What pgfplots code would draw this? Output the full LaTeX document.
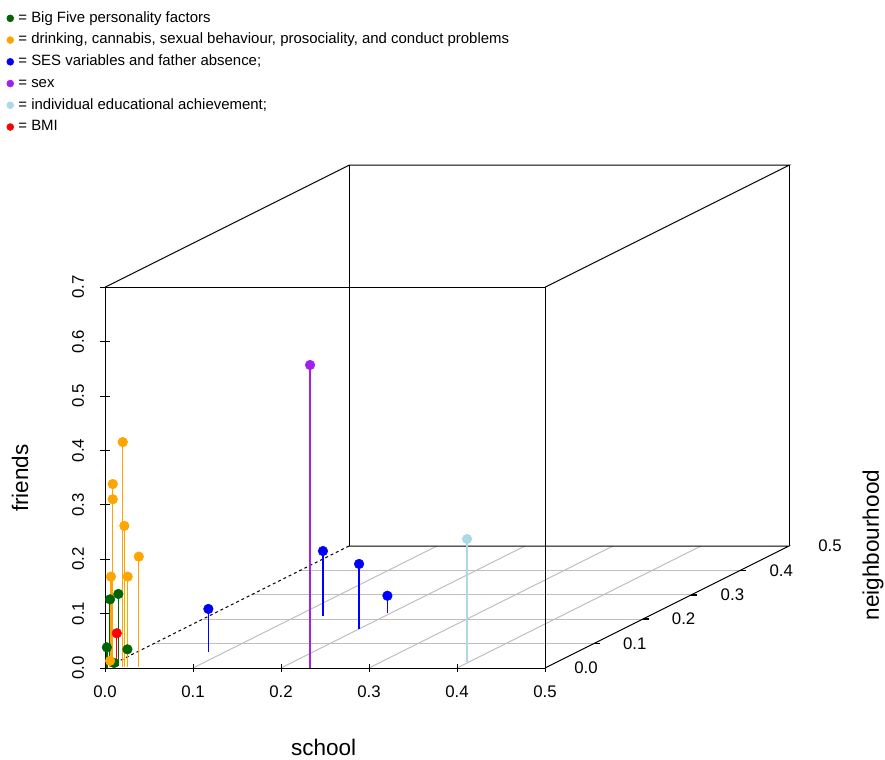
\documentclass[border=0pt]{standalone}
\usepackage{fontspec}
\setmainfont{Liberation Sans}
\usepackage{pgfplots}
\usepackage{pgfplotstable}
\pgfplotsset{compat=1.18}
\definecolor{rgreen}{RGB}{0,100,0}
\definecolor{rorange}{RGB}{255,165,0}
\definecolor{rblue}{RGB}{0,0,255}
\definecolor{rpurple}{RGB}{160,32,240}
\definecolor{rlightblue}{RGB}{173,216,230}
\definecolor{rred}{RGB}{255,0,0}
\definecolor{gridgray}{RGB}{190,190,190}

\pgfplotstableread{
x y z
0.003 0.005 0.124
0.0096 0.010 0.1316
0.001 0.002 0.037
0.0238 0.003 0.033
0.0075 0.005 0.007
}\greendata
\pgfplotstableread{
x y z
0.0174 0.005 0.413
0.006 0.005 0.336
0.006 0.005 0.308
0.0192 0.005 0.259
0.0356 0.005 0.2025
0.004 0.005 0.1657
0.023 0.005 0.1657
0.003 0.005 0.011
}\orangedata
\pgfplotstableread{
x y z
0.0803 0.067 0.0785
0.129 0.214 0.119
0.200 0.160 0.1195
0.195 0.227 0.031
}\bluedata
\pgfplotstableread{
x y z
0.233 0.0 0.557
}\purpledata
\pgfplotstableread{
x y z
0.397 0.026 0.2255
}\lightbluedata
\pgfplotstableread{
x y z
0.0106 0.005 0.0616
}\reddata

\begin{document}
\begin{tikzpicture}
\begin{axis}[
  x={(660pt,0pt)}, y={(366pt,183pt)}, z={(0pt,408pt)},
  xmin=0, xmax=0.5, ymin=0, ymax=0.5, zmin=0, zmax=0.7,
  hide axis, clip=false, disabledatascaling,
  legend style={at={(axis cs:-0.1119,0,1.2077)}, anchor=north west,
    draw=none, fill=none, inner sep=0pt, row sep=5.7pt, column sep=0pt,
    font=\fontsize{11.2}{13}\selectfont,
    nodes={inner sep=0pt, text height=8.2pt, text depth=2.4pt}},
  legend cell align=left,
  legend image code/.code={\draw[#1, mark size=2.6pt] plot coordinates {(3pt,0pt)};},
  pts/.style={only marks, mark=*, mark size=3.6pt,
    error bars/z dir=minus, error bars/z explicit,
    error bars/error mark=none,
    error bars/error bar style={line width=1.0pt, solid}},
]
% floor grid
\pgfplotsinvokeforeach{0.1,0.2,0.3,0.4}{
  \draw[gridgray, line width=0.75pt] (0,#1,0) -- (0.5,#1,0);
  \draw[gridgray, line width=0.75pt] (#1,0,0) -- (#1,0.5,0);
}
% box
\draw[black, line width=0.75pt, dash pattern=on 2.2pt off 2.2pt] (0,0,0) -- (0,0.5,0);
\draw[black, line width=0.75pt] (0,0,0) -- (0.5,0,0) -- (0.5,0,0.7) -- (0,0,0.7) -- cycle;
\draw[black, line width=0.75pt] (0,0,0.7) -- (0,0.5,0.7) -- (0.5,0.5,0.7) -- (0.5,0,0.7);
\draw[black, line width=0.75pt] (0,0.5,0) -- (0,0.5,0.7);
\draw[black, line width=0.75pt] (0.5,0.5,0) -- (0.5,0.5,0.7);
\draw[black, line width=0.75pt] (0,0.5,0) -- (0.5,0.5,0) -- (0.5,0,0);
% ticks
\pgfplotsinvokeforeach{0.0,0.1,0.2,0.3,0.4,0.5}{
  \draw[black, line width=0.75pt] (#1,0,-0.0074) -- (#1,0,0.0074);
  \node[font=\fontsize{12.6}{14}\selectfont, anchor=base] at (#1,0,-0.0551) {#1};
}
\pgfplotsinvokeforeach{0.0,0.1,0.2,0.3,0.4,0.5,0.6,0.7}{
  \draw[black, line width=0.75pt] (-0.0057,0,#1) -- (0.0057,0,#1);
  \node[font=\fontsize{12.6}{14}\selectfont, rotate=90] at (-0.0307,0,#1) {#1};
}
\pgfplotsinvokeforeach{0.1,0.2,0.3,0.4}{
  \draw[black, line width=1.1pt] (0.5,#1,0) -- (0.5068,#1,0);
}
\pgfplotsinvokeforeach{0.0,0.1,0.2,0.3,0.4,0.5}{
  \node[font=\fontsize{12.6}{14}\selectfont] at (0.5466,#1,0) {#1};
}
% axis labels
\node[font=\fontsize{16.9}{19}\selectfont, anchor=base] at (0.2485,0,-0.160) {school};
\node[font=\fontsize{16.9}{19}\selectfont, rotate=90] at (-0.0966,0,0.349) {friends};
\node[font=\fontsize{16.9}{19}\selectfont, rotate=90] at (0.8727,0,0.226) {neighbourhood};
% points with drop lines
\addplot3[pts, color=rgreen] table[z error expr=\thisrow{z}] {\greendata};
\addplot3[pts, color=rorange] table[z error expr=\thisrow{z}] {\orangedata};
\addplot3[pts, color=rblue] table[z error expr=\thisrow{z}] {\bluedata};
\addplot3[pts, color=rpurple] table[z error expr=\thisrow{z}] {\purpledata};
\addplot3[pts, color=rlightblue] table[z error expr=\thisrow{z}] {\lightbluedata};
\addplot3[pts, color=rred] table[z error expr=\thisrow{z}] {\reddata};
\legend{{\hspace{3.5pt}= Big Five personality factors},
  {\hspace{3.5pt}= drinking, cannabis, sexual behaviour, prosociality, and conduct problems},
  {\hspace{3.5pt}= SES variables and father absence;},
  {\hspace{3.5pt}= sex},
  {\hspace{3.5pt}= individual educational achievement;},
  {\hspace{3.5pt}= BMI}}
\coordinate (TL) at (axis cs:-0.11932,0,1.22794);
\coordinate (BR) at (axis cs:0.88636,0,-0.16912);
\end{axis}
\pgfresetboundingbox
\path[use as bounding box] (TL) rectangle (BR);
\end{tikzpicture}
\end{document}
